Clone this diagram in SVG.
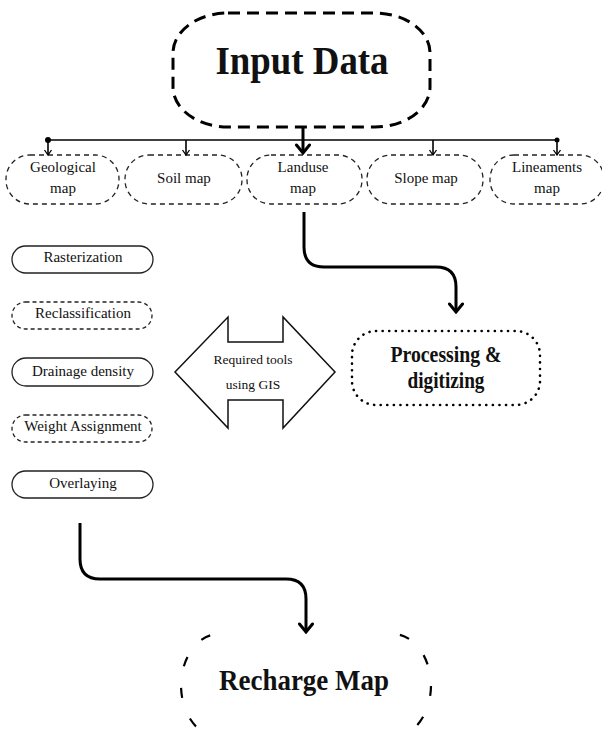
<svg xmlns="http://www.w3.org/2000/svg" width="602" height="731" viewBox="0 0 602 731">
<defs>
<style>
text{font-family:"Liberation Serif","Times New Roman",serif;fill:#111;text-anchor:middle}
.big{font-weight:bold}
.map{font-size:15px}
.tool{font-size:15px}
.mapbox{fill:#fff;stroke:#222;stroke-width:1.3;stroke-dasharray:5 4}
.pill{fill:#fff;stroke:#222;stroke-width:1.3}
.pilld{fill:#fff;stroke:#222;stroke-width:1.3;stroke-dasharray:4 3}
.conn{fill:none;stroke:#000;stroke-width:3}
.thin{fill:none;stroke:#000;stroke-width:1.6}
</style>
<marker id="ah" markerUnits="userSpaceOnUse" markerWidth="16" markerHeight="12" refX="8" refY="10" viewBox="0 0 16 12">
<path d="M1.5,2 L8,10 L14.5,2" fill="none" stroke="#000" stroke-width="3" stroke-linecap="round"/>
</marker>
<marker id="as" markerUnits="userSpaceOnUse" markerWidth="10" markerHeight="8" refX="5" refY="7" viewBox="0 0 10 8">
<path d="M1.5,2 L5,7 L8.5,2" fill="none" stroke="#000" stroke-width="1.3"/>
</marker>
</defs>
<rect width="602" height="731" fill="#fff"/>

<g id="input-data">
<rect x="173" y="13" width="257" height="114" rx="55" ry="40" fill="#fff" stroke="#000" stroke-width="3" stroke-dasharray="12 7"/>
<text class="big" x="302" y="74" font-size="40" textLength="173" lengthAdjust="spacingAndGlyphs">Input Data</text>
</g>

<g id="geological-map">
<rect class="mapbox" x="6" y="155" width="113" height="49" rx="24"/>
<text class="map" x="63" y="172">Geological</text>
<text class="map" x="63" y="193">map</text>
</g>
<g id="soil-map">
<rect class="mapbox" x="125" y="155" width="117" height="49" rx="24"/>
<text class="map" x="184" y="183">Soil map</text>
</g>
<g id="landuse-map">
<rect class="mapbox" x="247" y="155" width="115" height="49" rx="24"/>
<text class="map" x="303" y="172">Landuse</text>
<text class="map" x="303" y="193">map</text>
</g>
<g id="slope-map">
<rect class="mapbox" x="367" y="155" width="116" height="49" rx="24"/>
<text class="map" x="426" y="183">Slope map</text>
</g>
<g id="lineaments-map">
<rect class="mapbox" x="490" y="155" width="114" height="49" rx="24"/>
<text class="map" x="547" y="172">Lineaments</text>
<text class="map" x="547" y="193">map</text>
</g>

<g id="rasterization">
<rect class="pill" x="12" y="246" width="141" height="27" rx="13.5"/>
<text class="tool" x="83" y="262">Rasterization</text>
</g>
<g id="reclassification">
<rect class="pilld" x="12" y="302" width="140" height="27" rx="13.5"/>
<text class="tool" x="83" y="318">Reclassification</text>
</g>
<g id="drainage-density">
<rect class="pill" x="12" y="358" width="141" height="28" rx="14"/>
<text class="tool" x="83" y="376">Drainage density</text>
</g>
<g id="weight-assignment">
<rect class="pilld" x="12" y="415" width="140" height="27" rx="13.5"/>
<text class="tool" x="83" y="431">Weight Assignment</text>
</g>
<g id="overlaying">
<rect class="pill" x="12" y="471" width="141" height="27" rx="13.5"/>
<text class="tool" x="83" y="488">Overlaying</text>
</g>

<g id="required-tools">
<polygon points="175,372 228,317 228,342 283,342 283,317 335,372 283,428 283,400 228,400 228,428" fill="#fff" stroke="#111" stroke-width="1.5" stroke-linejoin="miter"/>
<text x="253" y="364" font-size="13.5">Required tools</text>
<text x="253" y="389" font-size="13.5">using GIS</text>
</g>

<g id="processing">
<rect x="352" y="331" width="188" height="74" rx="24" fill="#fff" stroke="#000" stroke-width="2.6" stroke-linecap="round" stroke-dasharray="0.1 6.5"/>
<text class="big" x="446" y="362" font-size="23" textLength="111" lengthAdjust="spacingAndGlyphs">Processing &amp;</text>
<text class="big" x="446" y="388" font-size="23" textLength="77" lengthAdjust="spacingAndGlyphs">digitizing</text>
</g>

<g id="recharge-map">
<path d="M218,634 A38,52 0 0 0 181,685 A38,52 0 0 0 218,737 M392,634 A38,52 0 0 1 431,685 A38,52 0 0 1 392,737" fill="none" stroke="#000" stroke-width="2.2" stroke-dasharray="0 8 10 14"/>
<text class="big" x="304" y="690" font-size="30" textLength="170" lengthAdjust="spacingAndGlyphs">Recharge Map</text>
</g>

<g id="connectors">
<line class="thin" x1="48" y1="140" x2="557" y2="140" stroke-width="2"/>
<circle cx="48" cy="140" r="3" fill="#000"/>
<circle cx="557" cy="140" r="2.5" fill="#000"/>
<line class="thin" x1="48" y1="140" x2="48" y2="155" stroke-width="1.3" marker-end="url(#as)"/>
<line class="thin" x1="186" y1="140" x2="186" y2="155" stroke-width="1.3" marker-end="url(#as)"/>
<line class="thin" x1="433" y1="140" x2="433" y2="155" stroke-width="1.3" marker-end="url(#as)"/>
<line class="thin" x1="557" y1="140" x2="557" y2="155" stroke-width="1.3" marker-end="url(#as)"/>
<line class="conn" x1="303" y1="127" x2="303" y2="153" marker-end="url(#ah)"/>
<path class="conn" d="M304,212 V247 Q304,267 324,267 H436 Q456,267 456,287 V312" marker-end="url(#ah)"/>
<path class="conn" d="M80,523 V559 Q80,579 100,579 H286 Q306,579 306,599 V632" marker-end="url(#ah)"/>
</g>
</svg>
